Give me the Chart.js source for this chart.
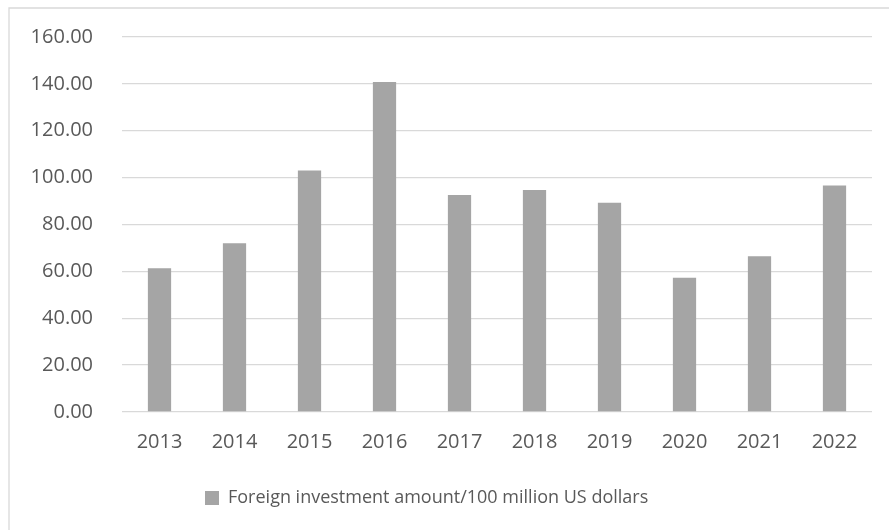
<!DOCTYPE html>
<html>
<head>
<meta charset="utf-8">
<script src="https://cdn.jsdelivr.net/npm/chart.js@4"></script>
<style>
  body { margin: 0; background: #fff; }
  #wrap { width: 889px; height: 530px; position: relative; }
</style>
</head>
<body>
<div id="wrap"><canvas id="graficoInversion"></canvas></div>
<script>
const years = ['2013', '2014', '2015', '2016', '2017', '2018', '2019', '2020', '2021', '2022'];
const investment = [61.3, 72.0, 103.0, 140.8, 92.6, 94.7, 89.3, 57.3, 66.5, 96.6];
const seriesName = 'Foreign investment amount/100 million US dollars';
const yMin = 0, yMax = 160, yStep = 20;

const textColor = '#595959';
const fontFamily = '"Open Sans", "DejaVu Sans", sans-serif';

// light frame on top and left, like the cropped Excel chart
const framePlugin = {
    id: 'frame',
    beforeDraw(chart) {
        const c = chart.ctx;
        c.save();
        c.strokeStyle = '#D9D9D9';
        c.lineWidth = 1.3;
        c.beginPath();
        c.moveTo(9, chart.height);
        c.lineTo(9, 8);
        c.lineTo(chart.width, 8);
        c.stroke();
        c.restore();
    }
};

// put legend where Excel has it
const legendPos = {
    id: 'legendPos',
    afterLayout(chart) {
        chart.legend.left = 195;
    }
};

const ctx = document.getElementById('graficoInversion').getContext('2d');
new Chart(ctx, {
    type: 'bar',
    data: {
        labels: years,
        datasets: [{
            label: seriesName,
            data: investment,
            backgroundColor: '#A5A5A5',
            borderWidth: 0,
            categoryPercentage: 1,
            barPercentage: 0.31
        }]
    },
    options: {
        responsive: true,
        maintainAspectRatio: false,
        animation: false,
        layout: { padding: { left: 0, right: 17, top: 37, bottom: 13 } },
        plugins: {
            tooltip: { enabled: false },
            legend: {
                position: 'bottom',
                align: 'start',
                labels: {
                    color: textColor,
                    font: { family: fontFamily, size: 18 },
                    boxWidth: 14,
                    boxHeight: 14,
                    padding: 10
                }
            }
        },
        scales: {
            y: {
                min: yMin,
                max: yMax,
                afterFit(scale) { scale.width = 122; },
                ticks: {
                    stepSize: yStep,
                    color: textColor,
                    font: { family: fontFamily, size: 20 },
                    padding: 5,
                    callback: v => Number(v).toFixed(2)
                },
                // invisible ticks only to push the labels left
                grid: { color: '#D9D9D9', lineWidth: 1.3, drawTicks: true, tickLength: 24, tickColor: 'rgba(0,0,0,0)' },
                border: { display: false }
            },
            x: {
                afterFit(scale) { scale.height = 67; },
                ticks: {
                    color: textColor,
                    font: { family: fontFamily, size: 20 },
                    padding: 18
                },
                grid: { display: false, drawTicks: false },
                border: { display: false }
            }
        }
    },
    plugins: [framePlugin, legendPos]
});
</script>
</body>
</html>
